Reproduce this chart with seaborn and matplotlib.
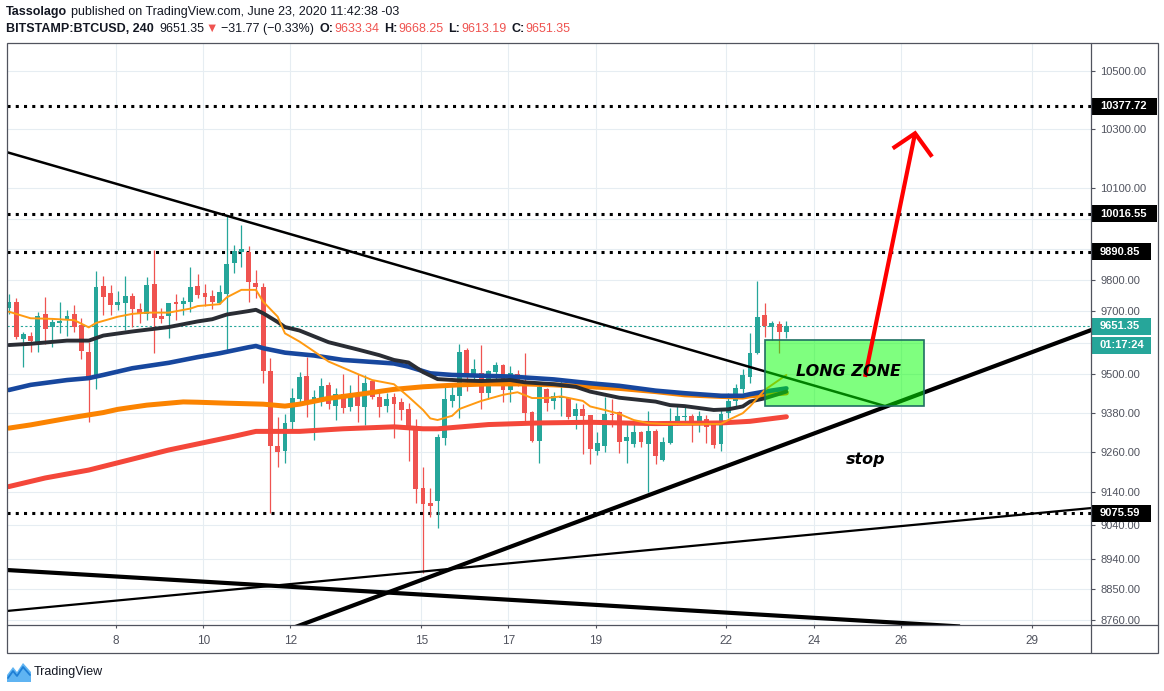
import matplotlib
matplotlib.use("Agg")
import matplotlib.pyplot as plt
import matplotlib.dates as mdates
import matplotlib.transforms as mtransforms
from matplotlib.patches import Rectangle, Polygon
from matplotlib.lines import Line2D
from matplotlib.ticker import FixedLocator, FixedFormatter, NullLocator, NullFormatter
import numpy as np
import pandas as pd
import seaborn as sns

W, H = 1164, 691

# 4h bars BITSTAMP:BTCUSD (UTC-3), first visible bar opens 2020-06-05 13:00
first_bar = "2020-06-05 13:00"
opens = [9711, 9729, 9612, 9621, 9600, 9691, 9648, 9662, 9674, 9691,
         9655, 9570, 9493, 9780, 9757, 9718, 9727, 9748, 9707, 9691,
         9786, 9684, 9684, 9729, 9724, 9729, 9780, 9757, 9748, 9726,
         9756, 9856, 9890, 9890, 9790, 9777, 9509, 9278, 9264, 9353,
         9423, 9495, 9413, 9426, 9467, 9402, 9438, 9399, 9442, 9398,
         9479, 9429, 9401, 9429, 9414, 9392, 9337, 9150, 9105, 9112,
         9303, 9417, 9433, 9576, 9493, 9504, 9443, 9507, 9529, 9451,
         9501, 9473, 9383, 9293, 9454, 9418, 9426, 9426, 9371, 9392,
         9373, 9263, 9279, 9378, 9383, 9293, 9284, 9321, 9284, 9324,
         9235, 9287, 9352, 9367, 9371, 9352, 9361, 9343, 9284, 9380,
         9417, 9454, 9491, 9567, 9687, 9649, 9659, 9633.34]
highs = [9755, 9742, 9633, 9633, 9697, 9744, 9674, 9729, 9703, 9719,
         9678, 9602, 9829, 9813, 9783, 9764, 9813, 9757, 9727, 9809,
         9897, 9710, 9726, 9755, 9744, 9842, 9819, 9786, 9768, 9783,
         10008, 9912, 9979, 9910, 9832, 9790, 9551, 9366, 9376, 9457,
         9506, 9554, 9450, 9487, 9476, 9456, 9500, 9467, 9502, 9499,
         9481, 9451, 9442, 9442, 9426, 9411, 9360, 9215, 9150, 9316,
         9459, 9466, 9596, 9583, 9548, 9592, 9513, 9538, 9532, 9526,
         9513, 9567, 9385, 9467, 9457, 9445, 9479, 9428, 9411, 9408,
         9375, 9321, 9429, 9423, 9385, 9349, 9346, 9324, 9386, 9330,
         9305, 9395, 9404, 9404, 9376, 9386, 9373, 9346, 9392, 9442,
         9470, 9517, 9630, 9797, 9726, 9668, 9668, 9668.25]
lows = [9690, 9611, 9524, 9571, 9571, 9596, 9586, 9631, 9622, 9634,
        9549, 9353, 9455, 9687, 9687, 9703, 9640, 9648, 9663, 9671,
        9566, 9663, 9615, 9671, 9687, 9698, 9742, 9717, 9705, 9724,
        9572, 9823, 9843, 9730, 9741, 9474, 9076, 9215, 9227, 9327,
        9413, 9368, 9296, 9401, 9392, 9358, 9379, 9386, 9352, 9343,
        9423, 9368, 9383, 9303, 9358, 9234, 9106, 8899, 9063, 9032,
        9281, 9399, 9364, 9448, 9466, 9392, 9424, 9476, 9414, 9414,
        9463, 9355, 9290, 9227, 9386, 9392, 9371, 9361, 9330, 9254,
        9223, 9252, 9260, 9336, 9257, 9226, 9275, 9275, 9139, 9223,
        9233, 9285, 9343, 9349, 9290, 9321, 9287, 9272, 9263, 9364,
        9398, 9442, 9473, 9565, 9618, 9608, 9567, 9613.19]
closes = [9728, 9618, 9627, 9606, 9684, 9644, 9665, 9668, 9684, 9648,
          9574, 9493, 9776, 9746, 9720, 9729, 9748, 9707, 9691, 9783,
          9679, 9675, 9726, 9724, 9732, 9777, 9751, 9746, 9730, 9761,
          9852, 9893, 9899, 9794, 9777, 9511, 9279, 9261, 9349, 9426,
          9491, 9414, 9429, 9463, 9408, 9438, 9395, 9435, 9401, 9473,
          9430, 9399, 9423, 9407, 9389, 9336, 9148, 9104, 9097, 9307,
          9422, 9435, 9570, 9499, 9517, 9443, 9510, 9529, 9451, 9503,
          9473, 9380, 9293, 9460, 9410, 9432, 9432, 9367, 9392, 9371,
          9269, 9287, 9376, 9375, 9290, 9306, 9321, 9290, 9324, 9248,
          9290, 9355, 9371, 9369, 9352, 9371, 9336, 9281, 9376, 9417,
          9457, 9498, 9567, 9681, 9652, 9662, 9633, 9651.35]

fast_idx = [0, 3, 6, 9, 11, 12, 15, 17, 19, 22, 25, 26, 29, 30, 32, 34, 35, 37, 38, 40,
            42, 44, 48, 50, 53, 55, 57, 58, 59, 61, 62, 65, 68, 70, 72, 74, 76, 79, 80, 82,
            84, 86, 88, 90, 94, 98, 99, 101, 102, 104, 107]
fast_vals = [9698, 9677, 9675, 9671, 9648, 9662, 9682, 9691, 9695, 9695, 9708, 9716, 9722, 9744,
             9768, 9768, 9730, 9682, 9629, 9603, 9572, 9540, 9501, 9482, 9469, 9430, 9389, 9363,
             9358, 9371, 9392, 9417, 9436, 9444, 9426, 9426, 9431, 9417, 9400, 9389, 9377, 9358,
             9348, 9346, 9345, 9346, 9358, 9379, 9400, 9451, 9498]
mid_idx = [0, 3, 8, 11, 13, 17, 22, 26, 28, 30, 33, 34, 35, 37, 38, 40, 44, 48, 51, 53,
           55, 57, 59, 62, 65, 69, 71, 75, 78, 80, 84, 89, 91, 93, 97, 99, 101, 102, 104, 107]
mid_vals = [9592, 9596, 9606, 9606, 9622, 9635, 9649, 9667, 9674, 9689, 9700, 9704, 9693, 9665,
            9649, 9638, 9601, 9578, 9560, 9545, 9537, 9507, 9485, 9481, 9479, 9482, 9475, 9469,
            9461, 9446, 9427, 9415, 9404, 9401, 9389, 9391, 9400, 9415, 9425, 9446]
slow_idx = [0, 3, 8, 11, 13, 17, 22, 26, 29, 33, 34, 35, 38, 42, 46, 53, 55, 58, 61, 69,
            75, 80, 84, 89, 93, 98, 101, 102, 104, 107]
slow_vals = [9451, 9467, 9482, 9488, 9498, 9519, 9536, 9554, 9566, 9585, 9589, 9582, 9568, 9559,
             9545, 9534, 9524, 9503, 9498, 9493, 9484, 9472, 9464, 9449, 9441, 9433, 9433, 9438,
             9446, 9456]
e100_idx = [0, 3, 8, 13, 15, 19, 24, 26, 30, 35, 38, 40, 44, 49, 53, 57, 62, 66, 71, 75,
            80, 84, 89, 93, 98, 101, 102, 104, 107]
e100_vals = [9333, 9343, 9363, 9381, 9391, 9404, 9414, 9413, 9410, 9407, 9401, 9407, 9425, 9440,
             9453, 9461, 9467, 9470, 9470, 9467, 9461, 9456, 9446, 9436, 9431, 9429, 9433, 9436,
             9442]
e200_idx = [0, 5, 11, 22, 31, 34, 40, 46, 53, 57, 59, 66, 73, 80, 89, 98, 102, 107]
e200_vals = [9155, 9181, 9205, 9266, 9308, 9323, 9323, 9331, 9337, 9331, 9331, 9344, 9349, 9351,
             9347, 9349, 9354, 9368]

# drawings: (time, price) end points
thin_down = [("2020-06-05 08:08", 10228), ("2020-06-25 15:20", 9401)]
thick_up = [("2020-06-11 18:15", 8724.6), ("2020-06-30 13:40", 9650)]
thin_up = [("2020-06-05 08:08", 8785.5), ("2020-06-30 13:40", 9093)]
thick_down = [("2020-06-05 08:08", 8908), ("2020-06-27 08:36", 8742.7)]
arrow_shaft = [("2020-06-25 04:18", 9492), ("2020-06-26 07:50", 10285)]
arrow_head = [("2020-06-25 19:32", 10234), ("2020-06-26 07:50", 10285), ("2020-06-26 17:11", 10206)]
zone_time = ("2020-06-22 21:05", "2020-06-26 12:56")
zone_price = (9401, 9606.8)
levels = [10377.72, 10016.55, 9890.85, 9075.59]
last_price = 9651.35
countdown = "01:17:24"

price_ticks = [8760, 8850, 8940, 9040, 9140, 9260, 9380, 9500, 9600, 9700, 9800, 9900,
               10000, 10100, 10300, 10500]
day_ticks = [8, 10, 12, 15, 17, 19, 22, 24, 26, 29]

UP, DOWN = "#26a69a", "#ef5350"
FRAME = "#50535e"
TXT = "#131722"


def tn(s):
    return mdates.date2num(pd.Timestamp(s))


sns.set_theme(style="white")
plt.rcParams["font.family"] = ["Liberation Sans", "DejaVu Sans"]

fig = plt.figure(figsize=(W / 100, H / 100), dpi=100)
fig.patch.set_facecolor("white")
L, R, T, B = 6.5, 1091, 43, 625
ax = fig.add_axes([L / W, 1 - B / H, (R - L) / W, (B - T) / H])
ax.set_facecolor("white")
ax.set_yscale("log")

bars = pd.DataFrame({"time": pd.date_range(first_bar, periods=len(opens), freq="4h"),
                     "open": opens, "high": highs, "low": lows, "close": closes})
bars["t"] = mdates.date2num(bars["time"].to_numpy())
tt = bars["t"].to_numpy()
col = np.where(bars["close"] >= bars["open"], UP, DOWN)

# price level lines
for v in levels:
    ax.axhline(v, color="black", lw=2.2, ls=(0, (1, 1.7)), dash_capstyle="butt", zorder=1.5)
ax.axhline(last_price, color=UP, lw=0.8, ls=(0, (2, 2)), zorder=1.5)

# candles
ax.vlines(tt, bars["low"], bars["high"], colors=col, lw=0.9, zorder=3)
body_lo = bars[["open", "close"]].min(axis=1)
body_h = (bars["close"] - bars["open"]).abs().clip(lower=2.5)
ax.bar(tt, body_h, bottom=body_lo, width=0.112, color=col, linewidth=0, zorder=3.1)

# moving averages
ma_specs = [(e200_idx, e200_vals, "#f4473a", 3.6),
            (e100_idx, e100_vals, "#fb8300", 3.6),
            (slow_idx, slow_vals, "#17479e", 3.3),
            (mid_idx, mid_vals, "#2a2d34", 2.8),
            (fast_idx, fast_vals, "#ff9a12", 1.4)]
for idx, vals, c, lw in ma_specs:
    sns.lineplot(x=tt[idx], y=vals, ax=ax, color=c, linewidth=lw, zorder=4)

# trend lines
for pts, lw in [(thin_down, 1.8), (thick_up, 3.0), (thin_up, 1.6), (thick_down, 3.0)]:
    ax.plot([tn(p[0]) for p in pts], [p[1] for p in pts], color="black", lw=lw,
            solid_capstyle="butt", zorder=5)

# long zone box
x0, x1 = tn(zone_time[0]), tn(zone_time[1])
ax.add_patch(Rectangle((x0, zone_price[0]), x1 - x0, zone_price[1] - zone_price[0],
                       fc=(0, 1, 0, 0.5), ec="#1f6f62", lw=1.2, zorder=6))

# arrow
ax.plot([tn(p[0]) for p in arrow_shaft], [p[1] for p in arrow_shaft], color="#ff0000", lw=3.0,
        solid_capstyle="butt", zorder=7)
ax.plot([tn(p[0]) for p in arrow_head], [p[1] for p in arrow_head], color="#ff0000", lw=3.0,
        solid_capstyle="butt", solid_joinstyle="miter", zorder=7)

ax.text(tn("2020-06-24 18:56"), 9510, "LONG ZONE", family="DejaVu Sans", fontsize=11.5,
        fontweight="bold", fontstyle="italic", color="black", ha="center", va="center", zorder=8)
ax.text(tn("2020-06-25 04:51"), 9236, "stop", family="DejaVu Sans", fontsize=11.5,
        fontweight="bold", fontstyle="italic", color="black", ha="center", va="center", zorder=8)

# axes
ax.set_xlim(tn("2020-06-05 11:43"), tn("2020-06-30 08:41"))
ax.set_ylim(8746.9, 10595.6)
ax.set_xticks([tn(f"2020-06-{d:02d}") for d in day_ticks])
ax.set_xticklabels([str(d) for d in day_ticks])
hidden = {9600, 9900, 10000}
ax.yaxis.set_major_locator(FixedLocator(price_ticks))
ax.yaxis.set_major_formatter(FixedFormatter(["" if v in hidden else f"{v:.2f}" for v in price_ticks]))
ax.yaxis.set_minor_locator(NullLocator())
ax.yaxis.set_minor_formatter(NullFormatter())
ax.yaxis.tick_right()
ax.tick_params(axis="y", which="major", right=True, left=False, length=3, width=0.8, color=FRAME,
               labelsize=8, labelcolor="#50535e", pad=3.5, direction="out")
ax.tick_params(axis="x", which="major", bottom=True, length=2.5, width=0.8, color=FRAME,
               labelsize=8.5, labelcolor="#50535e", pad=4.5, direction="out")
ax.grid(True, which="major", color="#e6edf2", lw=0.8)
ax.set_axisbelow(True)
for s in ax.spines.values():
    s.set_visible(False)

# price tags on the right scale
blend = mtransforms.blended_transform_factory(ax.transAxes, ax.transData)


def price_tag(v, label, fc, width, dy=0):
    tr = mtransforms.Affine2D().translate(0, dy) + mtransforms.ScaledTranslation(1.0, v, blend)
    ax.add_patch(Rectangle((0.5, -8.5), width, 17, transform=tr, fc=fc, ec="none",
                           clip_on=False, zorder=10))
    ax.text(9, 0, label, transform=tr, color="white", fontsize=8, fontweight="bold",
            ha="left", va="center", clip_on=False, zorder=11)


price_tag(10377.72, "10377.72", "black", 65)
price_tag(10016.55, "10016.55", "black", 65)
price_tag(9890.85, "9890.85", "black", 59)
price_tag(9075.59, "9075.59", "black", 59)
price_tag(last_price, f"{last_price:.2f}", UP, 59)
price_tag(last_price, countdown, UP, 59, dy=-19)

# frame
def fx(x):
    return x / W


def fy(y):
    return 1 - y / H


fig.add_artist(Rectangle((fx(6.5), fy(653)), fx(1158) - fx(6.5), fy(43) - fy(653),
                         transform=fig.transFigure, fill=False, ec=FRAME, lw=0.9))
fig.add_artist(Line2D([fx(1091), fx(1091)], [fy(43), fy(653)], transform=fig.transFigure,
                      color=FRAME, lw=0.9))
fig.add_artist(Line2D([fx(6.5), fx(1158)], [fy(625), fy(625)], transform=fig.transFigure,
                      color=FRAME, lw=0.9))

# header
renderer = fig.canvas.get_renderer()


def draw_runs(y_px, runs, size=9):
    x = 6.0
    for text, color, weight, gap in runs:
        x += gap
        t = fig.text(fx(x), fy(y_px), text, color=color, fontweight=weight, fontsize=size,
                     ha="left", va="center")
        x += t.get_window_extent(renderer=renderer).width


draw_runs(12, [("Tassolago", TXT, "bold", 0),
               ("published on TradingView.com, June 23, 2020 11:42:38 -03", TXT, "normal", 3.5)])
draw_runs(29, [("BITSTAMP:BTCUSD, 240", TXT, "bold", 0),
               ("9651.35", TXT, "normal", 6),
               ("\u25bc", DOWN, "normal", 1),
               ("\u221231.77 (\u22120.33%)", TXT, "normal", 3),
               ("O:", TXT, "bold", 5), ("9633.34", DOWN, "normal", 1),
               ("H:", TXT, "bold", 5), ("9668.25", DOWN, "normal", 1),
               ("L:", TXT, "bold", 5), ("9613.19", DOWN, "normal", 1),
               ("C:", TXT, "bold", 5), ("9651.35", DOWN, "normal", 1)])

# footer logo
logo = [(7, 682), (7, 675), (13, 667), (17, 672), (23, 663), (31, 672), (31, 682)]
fig.add_artist(Polygon([(fx(a), fy(b)) for a, b in logo], closed=True, transform=fig.transFigure,
                       fc="#5fb4f2", ec="none"))
zig = [(8, 678), (13, 671), (17, 676), (23, 667), (30, 675)]
fig.add_artist(Line2D([fx(a) for a, b in zig], [fy(b) for a, b in zig], transform=fig.transFigure,
                      color="#1e7fd6", lw=1.3))
fig.text(fx(33.5), fy(672), "TradingView", fontsize=9, color=TXT, ha="left", va="center")

fig.savefig("out.png", dpi=100, facecolor="white")
